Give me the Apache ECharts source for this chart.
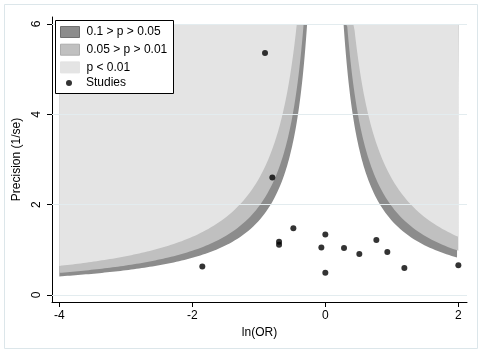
<!DOCTYPE html>
<html>
<head>
<meta charset="utf-8">
<script src="https://cdn.jsdelivr.net/npm/echarts@6/dist/echarts.min.js"></script>
<style>
  html, body { margin: 0; padding: 0; background: #fff; }
  #chart { width: 483px; height: 354px; }
</style>
</head>
<body>
<div id="chart"></div>
<script>
// contour levels (two-sided z for p = 0.1, 0.05, 0.01)
const levelNames = ["0.1 > p > 0.05", "0.05 > p > 0.01", "p < 0.01"];
const levelZ = [1.645, 1.96, 2.576];
const levelColors = ["#8c8c8c", "#c0c0c0", "#e4e4e4"];
const levelBorders = ["#707070", "#adadad", "#e4e4e4"];

// studies
const lnOR = [-0.907, -0.797, -1.850, -0.696, -0.696, -0.481, 0.0, -0.06, 0.0, 0.281, 0.511, 0.767, 0.932, 1.188, 2.0];
const precision = [5.36, 2.60, 0.63, 1.18, 1.11, 1.48, 1.34, 1.05, 0.49, 1.04, 0.91, 1.22, 0.95, 0.60, 0.66];

const xTicks = [-4, -2, 0, 2];
const yTicks = [0, 2, 4, 6];
const xRange = [-4, 2];
const yTop = 6;

// boundary of each contour: precision = z / |ln(OR)|, capped at the top
function contour(z) {
  let xs = [];
  for (let i = 0; i <= 600; i++) xs.push(+(xRange[0] + i * 0.01).toFixed(3));
  xs.push(-z / yTop, z / yTop);
  xs.sort((a, b) => a - b);
  return xs.map(x => [x, x === 0 ? yTop : Math.min(z / Math.abs(x), yTop)]);
}

const font = "Liberation Sans, Arial, sans-serif";
let chart = echarts.init(document.getElementById("chart"));

let series = [
  {
    name: "grid",
    type: "scatter",
    data: [],
    z: 1,
    silent: true,
    markLine: {
      silent: true,
      symbol: "none",
      label: { show: false },
      lineStyle: { color: "#e3ecef", width: 1, type: "solid" },
      data: yTicks.map(v => ({ yAxis: v }))
    }
  }
];
levelNames.forEach((name, i) => {
  series.push({
    name: name,
    type: "line",
    data: contour(levelZ[i]),
    z: 2,
    showSymbol: false,
    symbol: "none",
    silent: true,
    lineStyle: { width: 0, opacity: 0 },
    areaStyle: { color: levelColors[i], opacity: 1, origin: yTop },
    itemStyle: { color: levelColors[i] }
  });
});
series.push({
  name: "Studies",
  type: "scatter",
  z: 5,
  symbol: "circle",
  symbolSize: 6,
  itemStyle: { color: "#000" },
  data: lnOR.map((x, i) => [x, precision[i]])
});

let option = {
  animation: false,
  backgroundColor: "#fff",
  textStyle: { fontFamily: font },
  grid: { left: 52, right: 16, top: 17, bottom: 52 },
  graphic: [
    {
      type: "rect",
      shape: { x: 4.5, y: 4.5, width: 473, height: 344 },
      style: { fill: "none", stroke: "#dce6ea", lineWidth: 1 },
      z: -1
    },
    {
      type: "rect",
      shape: { x: 55.5, y: 20.5, width: 118, height: 73 },
      style: { fill: "#fff", stroke: "#000", lineWidth: 1 },
      z: 10
    }
  ],
  legend: [
    {
      orient: "vertical",
      left: 60,
      top: 26,
      padding: 0,
      itemWidth: 19,
      itemHeight: 11,
      itemGap: 5.7,
      z: 11,
      selectedMode: false,
      textStyle: { fontFamily: font, fontSize: 12, color: "#000", padding: [0, 0, 0, 2] },
      data: levelNames.map((n, i) => ({
        name: n,
        icon: "rect",
        itemStyle: { color: levelColors[i], borderColor: levelBorders[i], borderWidth: 1 }
      }))
    },
    {
      left: 66,
      top: 77,
      padding: 0,
      itemWidth: 6,
      itemHeight: 6,
      z: 11,
      selectedMode: false,
      textStyle: { fontFamily: font, fontSize: 12, color: "#000", padding: [0, 0, 0, 9] },
      data: [{ name: "Studies", icon: "circle", itemStyle: { color: "#000" } }]
    }
  ],
  xAxis: {
    type: "value",
    min: -4.11,
    max: 2.13,
    name: "ln(OR)",
    nameLocation: "middle",
    nameGap: 20,
    nameTextStyle: { fontFamily: font, fontSize: 12, color: "#000" },
    axisLine: { onZero: false, lineStyle: { color: "#000", width: 1 } },
    axisTick: { show: true, length: 5, customValues: xTicks, lineStyle: { color: "#000" } },
    axisLabel: { customValues: xTicks, margin: 8, fontFamily: font, fontSize: 12, color: "#000" },
    splitLine: { show: false }
  },
  yAxis: {
    type: "value",
    min: -0.155,
    max: 6.155,
    name: "Precision (1/se)",
    nameLocation: "middle",
    nameGap: 23,
    nameTextStyle: { fontFamily: font, fontSize: 12, color: "#000" },
    axisLine: { show: true, onZero: false, lineStyle: { color: "#000", width: 1 } },
    axisTick: { show: true, length: 5, customValues: yTicks, lineStyle: { color: "#000" } },
    axisLabel: { customValues: yTicks, rotate: 90, margin: 9, fontFamily: font, fontSize: 12, color: "#000" },
    splitLine: { show: false }
  },
  series: series
};
chart.setOption(option);
</script>
</body>
</html>
